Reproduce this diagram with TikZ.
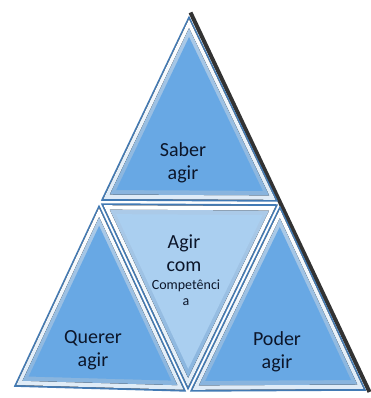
\documentclass[tikz,border=0pt]{standalone}
\usepackage{fontspec}
\setmainfont{Carlito}
\usepackage{tikz}
\usetikzlibrary{calc}
\definecolor{faceblue}{RGB}{104,168,228}
\definecolor{centerblue}{RGB}{170,207,240}
\definecolor{rimblue}{RGB}{66,122,180}
\definecolor{shineblue}{RGB}{222,235,247}
\definecolor{bevelblue}{RGB}{136,180,222}
\definecolor{labelink}{RGB}{12,22,42}
\tikzset{
  rim/.style={fill=rimblue, draw=none},
  shine/.style={top color=white, bottom color=shineblue, draw=none},
  bevel/.style={top color=bevelblue!70!white, bottom color=bevelblue, draw=none},
  shadowline/.style={draw=black!80, line width=4pt, line join=round},
  biglabel/.style={font=\fontsize{20}{23}\selectfont, text=labelink,
                   align=center, inner sep=0pt},
  smalllabel/.style={font=\fontsize{14}{16}\selectfont, text=labelink,
                   align=center, inner sep=0pt},
}

\begin{document}
\begin{tikzpicture}[x=1pt, y=-1pt]
    \useasboundingbox (0,0) rectangle (371,398);
    % Corners of the big triangle and mid points of its sides
    \coordinate (A) at (189,13);
    \coordinate (B) at (12,388);
    \coordinate (C) at (368,392);
    \coordinate (D) at (99,202);
    \coordinate (E) at (280,203);
    \coordinate (F) at (188,393);
    % Dark edge on the right side
    \draw[shadowline] ($(A)+(1.5,-0.5)$) -- ($(C)+(1.5,0)$);
    % Four bevelled triangles
    \foreach \p/\q/\r/\f in {A/D/E/faceblue, D/B/F/faceblue,
                             E/F/C/faceblue, D/E/F/centerblue} {
      \coordinate (g) at (barycentric cs:\p=1,\q=1,\r=1);
      \fill[rim] ($(g)!0.98!(\p)$) -- ($(g)!0.98!(\q)$) -- ($(g)!0.98!(\r)$) -- cycle;
      \fill[shine] ($(g)!0.95!(\p)$) -- ($(g)!0.95!(\q)$) -- ($(g)!0.95!(\r)$) -- cycle;
      \fill[bevel] ($(g)!0.88!(\p)$) -- ($(g)!0.88!(\q)$) -- ($(g)!0.88!(\r)$) -- cycle;
      \fill[fill=\f] ($(g)!0.81!(\p)$) -- ($(g)!0.81!(\q)$) -- ($(g)!0.81!(\r)$) -- cycle;
    }
    % Labels
    \node[biglabel] (saber) at (183,163) {Saber\\agir};
    \node[biglabel] (agir) at (184,253) {Agir\\com};
    \node[smalllabel] (comp) at (186,293) {Competênci\\a};
    \node[biglabel] (querer) at (93,350) {Querer\\agir};
    \node[biglabel] (poder) at (277,352) {Poder\\agir};
  \end{tikzpicture}
\end{document}
